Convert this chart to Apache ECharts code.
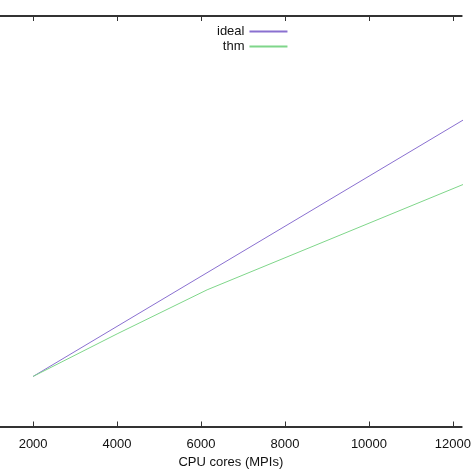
<!DOCTYPE html>
<html>
<head>
<meta charset="utf-8">
<script src="https://cdn.jsdelivr.net/npm/echarts@6/dist/echarts.min.js"></script>
<style>html,body{margin:0;padding:0;background:#fff}#c{width:474px;height:474px}</style>
</head>
<body>
<div id="c"></div>
<script>
var xTicks = [2000, 4000, 6000, 8000, 10000, 12000];
var idealData = [[2000, 1], [12288, 6.144]];
var thmData = [[2000, 1], [4000, 1.85], [6144, 2.73], [12288, 4.85]];

var myChart = echarts.init(document.getElementById('c'));
var tickStyle = {lineStyle: {color: '#333', width: 1}, length: 5, inside: true, customValues: xTicks};
option = {
	animation: false,
	grid: {left: 0, right: 0, top: 16, bottom: 36, containLabel: false},
	legend: {
		orient: 'vertical', left: 212, top: 20, align: 'right',
		itemWidth: 38, itemHeight: 2, itemGap: 2,
		textStyle: {fontFamily: 'Liberation Sans', fontSize: 13, color: '#111'},
		icon: 'rect',
		data: ['ideal', 'thm']
	},
	xAxis: [
		{
			type: 'value', min: 1211, max: 12209,
			axisLine: {lineStyle: {color: '#333', width: 2}},
			axisTick: tickStyle,
			axisLabel: {customValues: xTicks, formatter: function(v){return String(v);}, fontFamily: 'Liberation Sans', fontSize: 13, color: '#111', margin: 9},
			splitLine: {show: false},
			name: 'CPU cores (MPIs)', nameLocation: 'middle', nameGap: 27,
			nameTextStyle: {fontFamily: 'Liberation Sans', fontSize: 13, color: '#111'}
		},
		{
			type: 'value', position: 'top', min: 1211, max: 12209,
			axisLine: {show: true, lineStyle: {color: '#333', width: 2}},
			axisTick: tickStyle,
			axisLabel: {show: false},
			splitLine: {show: false}
		}
	],
	yAxis: {
		type: 'value', min: -0.05, max: 8.2,
		axisLine: {show: false}, axisTick: {show: false}, axisLabel: {show: false}, splitLine: {show: false}
	},
	series: [
		{name: 'ideal', type: 'line', data: idealData, symbol: 'none', lineStyle: {color: '#8a70d0', width: 1}, itemStyle: {color: '#8a70d0'}},
		{name: 'thm', type: 'line', data: thmData, symbol: 'none', lineStyle: {color: '#7fd68a', width: 1}, itemStyle: {color: '#7fd68a'}}
	]
};
myChart.setOption(option);
</script>
</body>
</html>
